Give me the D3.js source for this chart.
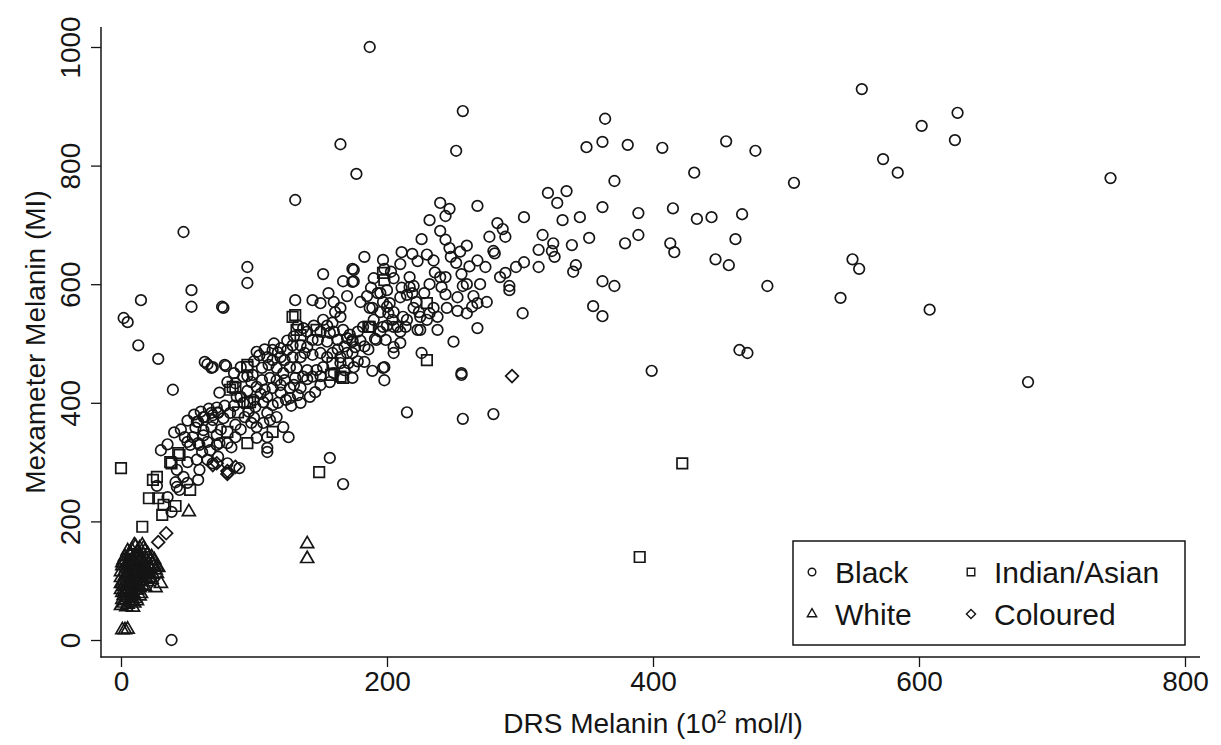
<!DOCTYPE html>
<html><head><meta charset="utf-8">
<script src="https://cdn.jsdelivr.net/npm/d3@7"></script>
<style>
html,body{margin:0;padding:0;background:#fff;}
svg{display:block;font-family:"Liberation Sans",Arial,Helvetica,sans-serif;}
</style></head>
<body><svg id="chart" width="1221" height="745"></svg>
<script>
// ---- data: [DRS Melanin (10^2 mol/l), Mexameter Melanin (MI)] ----
const black = [
[187,1000],[257,892],[557,929],[629,889],[602,867],[627,843],[573,811],[584,788],[744,779],[506,771],[165,836],[252,825],[177,786],[131,742],[47,688],
[364,879],[350,831],[362,840],[381,835],[407,830],[455,841],[477,825],[431,788],[371,774],
[362,730],[389,720],[415,728],[433,710],[444,713],[467,718],
[389,683],[379,669],[413,669],[416,654],[462,676],
[447,642],[457,632],[486,597],[541,577],[550,642],[555,626],[608,557],[682,435],
[362,605],[371,597],[355,563],[362,546],[399,454],[465,489],[471,484],
[321,754],[335,757],[328,737],[303,713],[332,708],[345,713],
[283,703],[287,693],[277,680],[289,680],[317,683],[325,669],[339,666],[352,678],
[314,658],[324,656],[326,646],[280,656],[281,652],[274,629],[285,612],[289,619],[292,597],[292,590],[297,629],[303,637],[314,629],[342,632],[340,621],[302,551],
[268,732],[240,737],[247,727],[244,715],[232,708],[240,690],[244,675],[247,661],[248,646],[252,636],[256,617],[257,597],[253,578],[240,612],[244,612],[241,595],[244,583],
[226,676],[211,654],[219,651],[223,639],[210,634],[197,641],[183,646],[175,624],[175,605],[198,626],[203,621],[188,594],[193,585],[217,612],[220,597],[211,594],[215,582],[219,585],
[197,570],[200,562],[195,553],[201,551],[204,540],[208,528],[187,560],[182,528],[188,528],[214,528],[222,570],[224,553],[232,551],[223,523],[238,523],[238,545],[253,555],[260,551],[264,562],[268,568],[250,503],[268,526],[226,484],[191,508],[199,506],[205,494],[210,501],[205,484],[174,506],[174,484],[183,469],[189,454],[197,459],[256,450],
[167,605],[174,626],[174,604],[152,617],[156,585],[144,573],[150,568],[131,573],[210,578],[217,595],[195,585],[202,568],[205,553],[189,560],[212,545],[220,560],[225,545],[197,528],[205,528],[225,523],[192,506],[198,460],[198,438],
[215,384],[257,373],[280,381],[256,447],[157,307],[167,263],[122,359],[126,342],[38,0],
[137,526],[152,540],[159,535],[161,553],[165,545],[167,523],[157,518],[163,506],[170,509],[174,503],[176,494],[155,503],[148,506],[144,506],[140,494],[135,497],[129,497],[125,489],[120,492],[114,489],[110,477],[114,472],[120,477],[123,472],[129,477],[135,477],[138,484],[144,481],[150,484],[155,477],[159,484],[165,477],[170,484],[171,467],[165,467],[152,460],[147,455],[140,455],[132,459],[127,460],[122,450],[117,459],[111,464],[106,459],[102,486],[99,447],[106,438],[112,442],[117,438],[123,438],[131,442],[137,444],[144,444],[174,442],[157,435],[146,418],[135,425],[127,425],[133,413],[127,408],[120,417],[114,425],[108,422],[102,427],[98,435],[92,444],[86,433],[80,435],[78,464],[68,459],[63,469],[74,417],[87,410],[92,400],[101,393],[107,401],[114,396],[110,383],[112,371],[117,376],[107,366],[102,359],[98,366],[93,376],[82,383],[77,374],[73,383],[69,379],[63,376],[58,368],[56,358],[62,354],[68,359],[72,346],[86,363],[86,342],[102,341],[110,342],[48,342],[52,329],[58,332],[65,334],[72,329],[80,332],[110,324],[39,422],[27,260],[35,241],[38,216],[50,300],[42,287],[47,275],[41,266],[50,265],[44,253],[58,270],[59,287],[57,304],[50,334],[54,342],[59,329],[67,320],[61,317],[65,304],[69,298],[73,309],[80,298],[80,282],[89,290],[74,332],[83,325],[57,368],[62,376],[68,383],[73,384],[69,371],[100,405],[110,317],[42,258],
[2,543],[5,536],[15,573],[13,497],[28,474],[53,590],[53,562],[76,562],[77,560],[95,629],[95,602],[65,465],[69,460],[79,462],
[100,470],[104,480],[108,490],[115,500],[118,485],[125,505],[130,512],[133,530],[140,520],[145,530],[150,520],[155,530],[160,520],[163,490],[168,495],[172,515],[178,520],[180,505],[183,495],[186,490],[178,470],[175,460],[168,455],[160,450],[150,445],[140,440],[130,430],[120,430],[110,410],[105,415],[95,420],[90,410],[85,395],[78,395],[72,392],[66,390],[60,385],[55,380],[50,370],[45,355],[40,350],[35,330],[30,320],[62,345],[75,355],[90,355],[96,385],[100,375],[118,400],[124,405],[128,395],[135,400],[142,410],[150,430],[85,450],[90,460],[95,445],
[190,540],[195,520],[200,530],[210,520],[215,540],[230,540],[235,560],[245,560],[228,585],[232,600],[236,620],[205,610],[190,610],[185,580],[180,570],[165,560],[160,570],[170,580],[200,590],[260,600],[265,580],[270,600],[275,570],[262,630],[268,640],[255,655],[260,665],[230,650],[235,640]
];
const indianAsian = [
[0,290],[422,298],[390,140],[149,283],[230,472],[197,619],[198,607],[230,568],[187,528],[131,548],[132,523],[147,523],[159,467],[158,447],[167,442],[95,464],[84,427],[97,401],[88,384],[80,351],[95,332],[114,351],[82,422],[95,400],[38,298],[44,312],[52,253],[24,270],[21,239],[28,239],[32,228],[41,226],[31,211],[16,191],[95,460],[86,425],[129,545],[135,514],[186,528],[165,444],[43,315],[37,300],[27,275]
];
const white = [
[10,160],[14,155],[8,152],[18,150],[12,148],[5,150],
[3,140],[7,142],[11,138],[15,141],[19,136],[22,134],[6,132],[9,130],[13,133],[17,130],[24,128],[2,135],
[1,125],[4,122],[7,126],[10,120],[13,124],[16,118],[19,122],[22,120],[25,125],[28,122],[3,115],[6,112],[9,116],[12,110],[15,113],[18,110],[21,114],[27,112],
[0,105],[2,100],[5,108],[8,102],[11,106],[14,100],[17,104],[20,98],[23,102],[1,95],[4,92],[7,96],[10,90],[13,94],[16,92],[26,88],[30,95],
[0,85],[3,82],[6,86],[9,80],[12,84],[15,78],[2,75],[5,72],[8,76],[11,70],[14,74],[1,68],
[2,62],[5,60],[8,65],[0,58],[4,56],[10,62],
[1,130],[4,128],[8,135],[12,128],[16,136],[20,128],[23,140],[6,118],[10,124],[14,120],[18,116],[3,108],[7,104],[11,98],[15,106],[19,104],[2,90],[6,92],[10,84],[14,88],[18,90],[4,78],[8,70],[12,66],[3,66],[6,64],[9,55],[1,80],[24,110],[26,118],[20,145],[16,160],[11,158],[7,146],[25,135],[21,105],[0,115],[0,95],[13,140],[17,125],
[3,17],[5,18],[1,17],[51,216],[140,162],[140,137],[17,155],[27,123]
];
const coloured = [[294,445],[28,165],[34,180],[80,285],[72,298],[86,292],[69,295],[80,280]];

const xTicks = [0,200,400,600,800];
const yTicks = [0,200,400,600,800,1000];
const xTitle = "DRS Melanin (10";
const yTitle = "Mexameter Melanin (MI)";
const legendItems = [
  {label:"Black", type:"circle"},
  {label:"Indian/Asian", type:"square"},
  {label:"White", type:"triangle"},
  {label:"Coloured", type:"diamond"}
];

// ---- drawing ----
const svg = d3.select("#chart");
const ink = "#151515";
const x = d3.scaleLinear().domain([0,800]).range([121,1185]);
const y = d3.scaleLinear().domain([0,1000]).range([640,47]);
const axX = 101, axY = 657;

function symPath(type, k){
  k = k || 1;
  if(type==="circle") return d3.symbol(d3.symbolCircle, Math.PI*5.3*5.3*k*k)();
  if(type==="square") return d3.symbol(d3.symbolSquare, 10.5*10.5*k*k)();
  if(type==="triangle") return d3.symbol(d3.symbolTriangle, 0.433*13*13*k*k)();
  if(type==="diamond") return d3.symbol(d3.symbolSquare, 9*9*k*k)();
}
function drawSeries(data, type){
  svg.append("g").selectAll("path").data(data).join("path")
    .attr("d", symPath(type))
    .attr("transform", d => `translate(${x(d[0])},${y(d[1])})` + (type==="diamond"?" rotate(45)":""))
    .attr("fill","none").attr("stroke",ink).attr("stroke-width",1.7);
}
drawSeries(black,"circle");
drawSeries(indianAsian,"square");
drawSeries(white,"triangle");
drawSeries(coloured,"diamond");

// axes
const fs = 28;
const gy = svg.append("g").attr("transform",`translate(${axX},0)`)
  .call(d3.axisLeft(y).tickValues(yTicks).tickFormat(d3.format("d")).tickSize(10).tickSizeOuter(0));
gy.select(".domain").remove();
gy.selectAll(".tick line").attr("stroke",ink).attr("stroke-width",1.3);
gy.selectAll(".tick text").attr("transform","rotate(-90)").attr("x",0).attr("y",-21).attr("dy",0)
  .attr("text-anchor","middle").attr("font-size",fs).attr("fill",ink).attr("font-family",null);

const gx = svg.append("g").attr("transform",`translate(0,${axY})`)
  .call(d3.axisBottom(x).tickValues(xTicks).tickFormat(d3.format("d")).tickSize(10).tickSizeOuter(0));
gx.select(".domain").remove();
gx.selectAll(".tick line").attr("stroke",ink).attr("stroke-width",1.3);
gx.selectAll(".tick text").attr("y",14).attr("dy","0.71em").attr("font-size",fs).attr("fill",ink).attr("font-family",null);

svg.append("line").attr("x1",axX).attr("x2",axX).attr("y1",27).attr("y2",axY+0.6).attr("stroke",ink).attr("stroke-width",1.5);
svg.append("line").attr("x1",axX-0.6).attr("x2",1200).attr("y1",axY).attr("y2",axY).attr("stroke",ink).attr("stroke-width",1.5);

// titles
const xt = svg.append("text").attr("x",653).attr("y",733).attr("text-anchor","middle")
  .attr("font-size",fs).attr("fill",ink);
xt.append("tspan").text(xTitle);
xt.append("tspan").attr("dy",-10).attr("font-size",18).text("2");
xt.append("tspan").attr("dy",10).text(" mol/l)");
svg.append("text").attr("transform","translate(45,342) rotate(-90)").attr("text-anchor","middle")
  .attr("font-size",fs).attr("fill",ink).text(yTitle);

// legend
const lg = svg.append("g");
lg.append("rect").attr("x",793).attr("y",541).attr("width",392).attr("height",104)
  .attr("fill","#fff").attr("stroke",ink).attr("stroke-width",1.5);
const cols = [812, 971], rows = [572, 614], txt = [835, 994];
legendItems.forEach((d,i)=>{
  const c = i%2, r = Math.floor(i/2);
  lg.append("path").attr("d", symPath(d.type, 0.72))
    .attr("transform",`translate(${cols[c]},${rows[r]})`+(d.type==="diamond"?" rotate(45)":""))
    .attr("fill","none").attr("stroke",ink).attr("stroke-width",1.4);
  lg.append("text").attr("x",txt[c]).attr("y",rows[r]+11).attr("font-size",30).attr("fill",ink).text(d.label);
});
</script></body></html>
